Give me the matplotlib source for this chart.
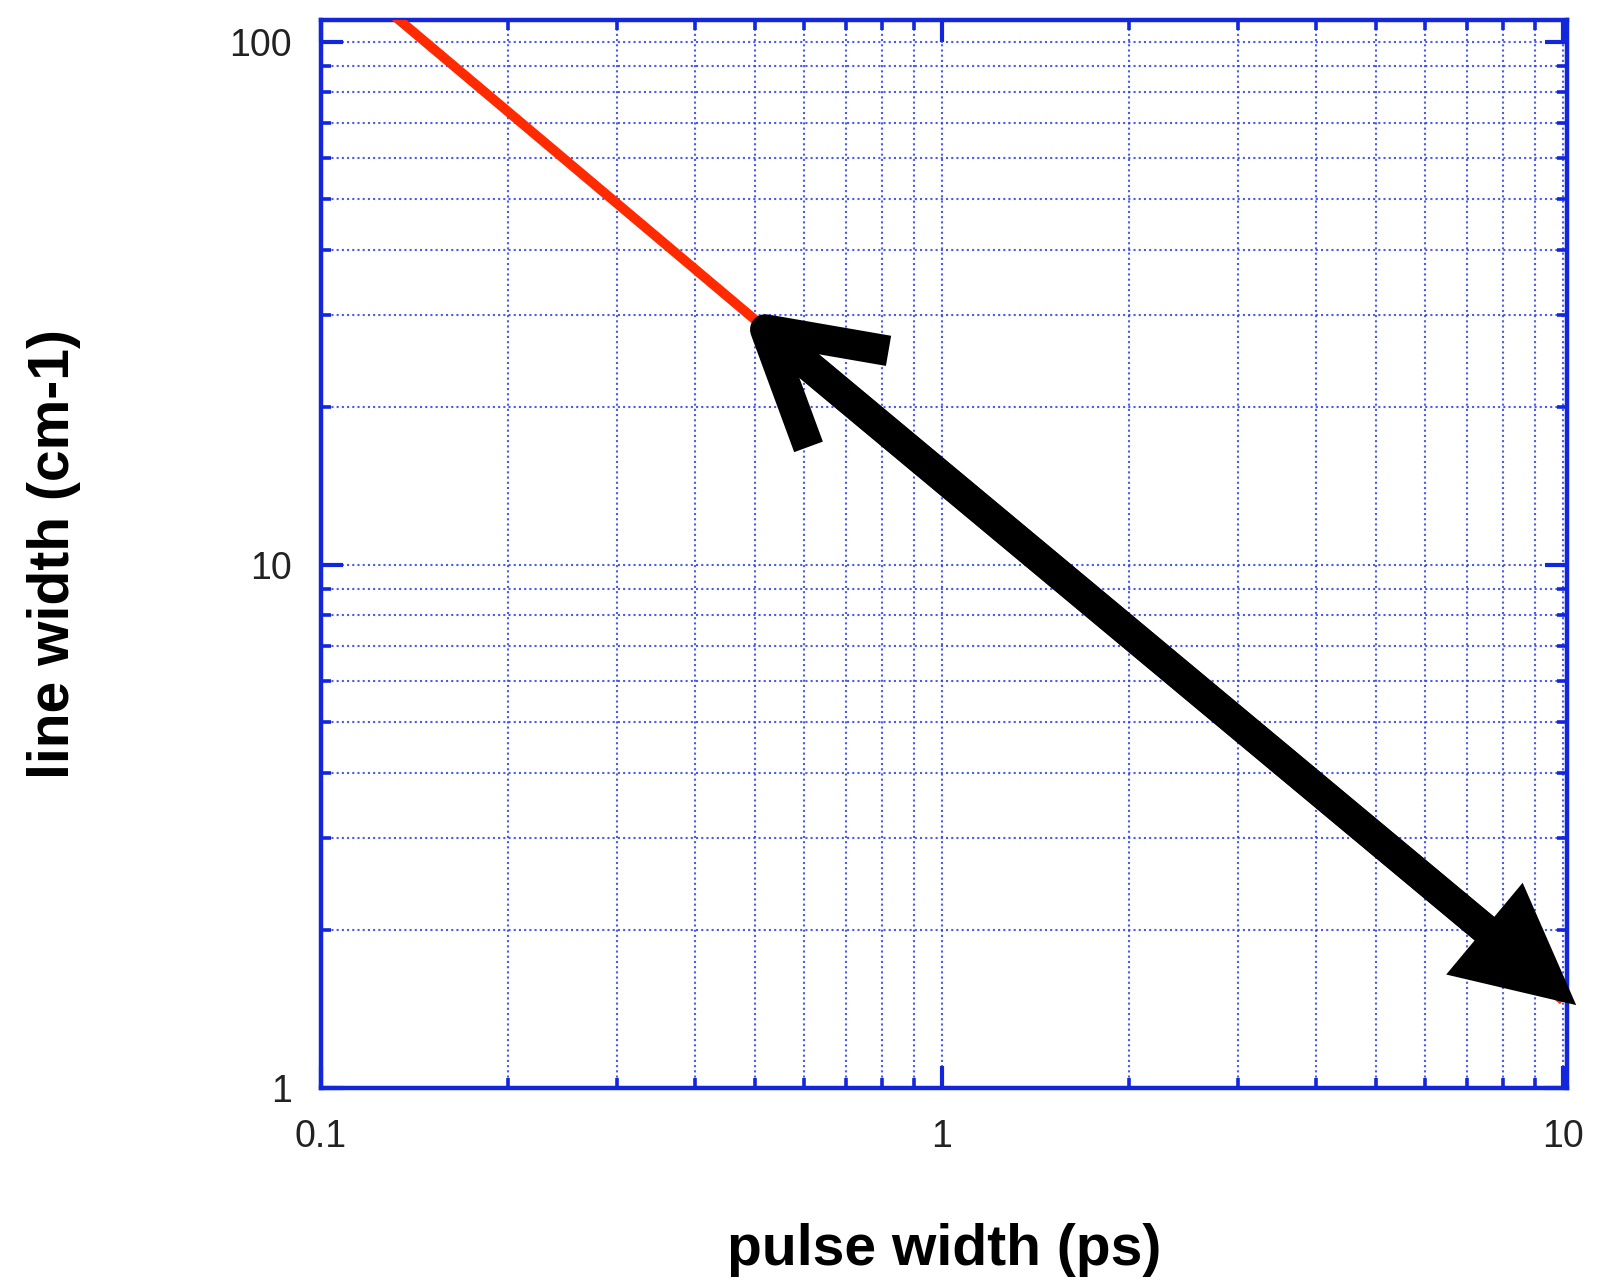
import numpy as np
import matplotlib
matplotlib.use("Agg")
import matplotlib.pyplot as plt
from matplotlib.patches import FancyArrowPatch
from matplotlib.ticker import LogLocator, NullFormatter, FixedLocator, FixedFormatter

# transform-limited line width vs pulse width (14.7 cm-1 ps)
pulse_width = [0.1, 0.2, 0.5, 1.0, 2.0, 5.0, 10.0]        # ps
line_width = [147.0, 73.5, 29.4, 14.7, 7.35, 2.94, 1.47]   # cm-1

x_ticks = [0.1, 1, 10]
x_ticklabels = ["0.1", "1", "10"]
y_ticks = [1, 10, 100]
y_ticklabels = ["1", "10", "100"]

# double arrow annotation end points (data coords)
arrow_upper = (0.476, 30.7)
arrow_lower = (10.5, 1.44)

blue = "#1226dc"
grid_blue = "#2b3cf0"

fig = plt.figure(figsize=(16.01, 12.81), dpi=100)
ax = fig.add_axes([0.2005, 0.1507, 0.7783, 0.8337])

ax.plot(pulse_width, line_width, color="#ff2a00", lw=7, solid_capstyle="butt", zorder=3)

ax.set_xscale("log")
ax.set_yscale("log")
ax.set_xlim(0.1, 10.15)
ax.set_ylim(1, 110)

ax.xaxis.set_major_locator(FixedLocator(x_ticks))
ax.xaxis.set_major_formatter(FixedFormatter(x_ticklabels))
ax.yaxis.set_major_locator(FixedLocator(y_ticks))
ax.yaxis.set_major_formatter(FixedFormatter(y_ticklabels))
ax.xaxis.set_minor_locator(LogLocator(base=10, subs=np.arange(2, 10)))
ax.yaxis.set_minor_locator(LogLocator(base=10, subs=np.arange(2, 10)))
ax.xaxis.set_minor_formatter(NullFormatter())
ax.yaxis.set_minor_formatter(NullFormatter())

for s in ax.spines.values():
    s.set_color(blue)
    s.set_linewidth(3.2)

ax.tick_params(which="both", direction="in", top=True, right=True, color=blue,
               labelcolor="#222222")
ax.tick_params(which="major", length=16, width=3)
ax.tick_params(which="minor", length=7.5, width=2.6)
ax.tick_params(axis="x", which="major", pad=22)
ax.tick_params(axis="y", which="major", pad=21)
for lab in ax.get_xticklabels() + ax.get_yticklabels():
    lab.set_fontfamily("Liberation Sans")
    lab.set_fontsize(27)

ax.grid(True, which="both", color=grid_blue, linestyle=(0, (1, 1.5)), linewidth=1.5, alpha=0.85)
ax.set_axisbelow(True)

ax.set_xlabel("pulse width (ps)", fontsize=41, fontweight="bold",
              fontfamily="Liberation Sans", va="center")
ax.set_ylabel("line width (cm-1)", fontsize=41, fontweight="bold",
              fontfamily="Liberation Sans", va="center")
ax.xaxis.set_label_coords(0.5, -0.152)
ax.yaxis.set_label_coords(-0.214, 0.5)

# filled head at the lower end
a1 = FancyArrowPatch(arrow_upper, arrow_lower,
                     arrowstyle="simple,head_length=86,head_width=86,tail_width=22",
                     mutation_scale=1, color="black", lw=0, shrinkA=20, shrinkB=0,
                     clip_on=False, zorder=5)
ax.add_patch(a1)
# open head at the upper end
a2 = FancyArrowPatch(arrow_lower, arrow_upper,
                     arrowstyle="->,head_length=78,head_width=45",
                     mutation_scale=1, color="black", lw=22, shrinkA=60, shrinkB=0,
                     capstyle="butt", joinstyle="round", clip_on=False, zorder=5)
ax.add_patch(a2)

plt.savefig("out.png", dpi=100)
